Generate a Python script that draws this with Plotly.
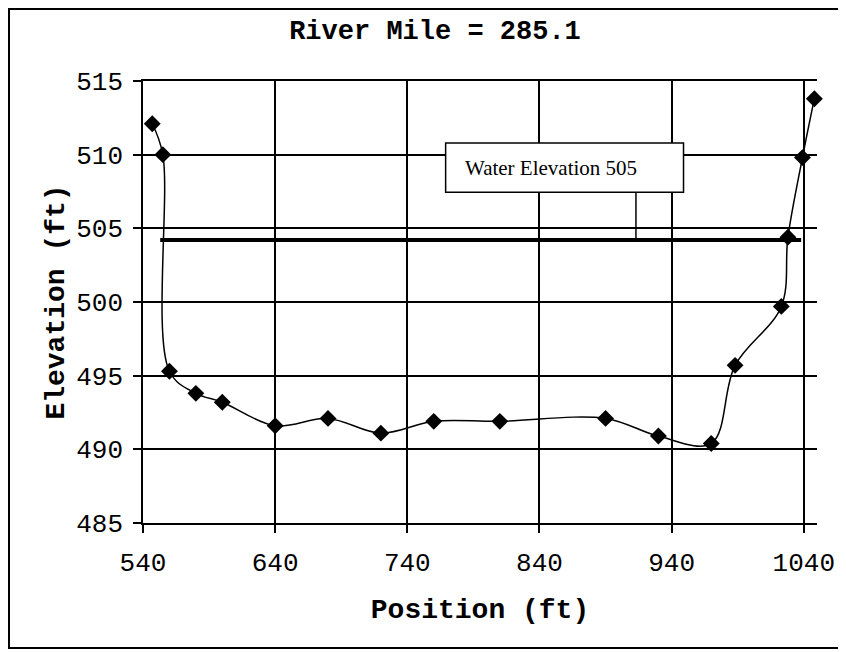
import plotly.graph_objects as go

# Cross-section survey points
position = [547, 555, 560, 580, 600, 640, 680, 720, 760, 810, 890, 930, 970, 988, 1023, 1028, 1039, 1048]
elevation = [512.1, 510.0, 495.3, 493.8, 493.2, 491.6, 492.1, 491.1, 491.9, 491.9, 492.1, 490.9, 490.4, 495.7, 499.7, 504.4, 509.8, 513.8]

# Water surface line
water_x = [553, 1038]
water_y = [504.2, 504.2]

x_ticks = [540, 640, 740, 840, 940, 1040]
y_ticks = [485, 490, 495, 500, 505, 510, 515]

mono = "Courier New, Liberation Mono, monospace"

# the page body adds an 8px margin, so the figure is 8px smaller than the window
W, H = 838, 644

fig = go.Figure()

fig.add_trace(go.Scatter(
    x=water_x, y=water_y,
    mode="lines",
    line=dict(color="black", width=4),
    showlegend=False,
    hoverinfo="skip"
))

fig.add_trace(go.Scatter(
    x=position, y=elevation,
    mode="lines+markers",
    line=dict(color="black", width=1.5, shape="spline", smoothing=1),
    marker=dict(symbol="diamond", size=13, color="black"),
    cliponaxis=False,
    showlegend=False
))

# callout box with its pointer to the water line
fig.add_shape(type="line", x0=913, x1=913, y0=504.2, y1=507.45,
              line=dict(color="black", width=1.5), layer="above")
fig.add_shape(type="rect", x0=769, x1=949, y0=507.45, y1=510.8,
              line=dict(color="black", width=1.5), fillcolor="white", layer="above")
fig.add_annotation(
    x=782, y=509.1, xanchor="left", yanchor="middle",
    text="Water Elevation 505", showarrow=False,
    font=dict(family="Times New Roman, Liberation Serif, serif", size=21, color="black")
)

# outer frame round the whole chart
fig.add_shape(type="rect", xref="paper", yref="paper",
              x0=-0.1988, x1=1.037, y0=-0.2828, y1=1.163,
              line=dict(color="black", width=2))

fig.update_layout(
    width=W, height=H,
    margin=dict(l=135, r=29, t=73, b=129),
    paper_bgcolor="white", plot_bgcolor="white",
    title=dict(
        text="<b>River Mile = 285.1</b>",
        x=427 / W, xref="container", xanchor="center",
        y=1 - 22 / H, yref="container", yanchor="middle",
        font=dict(family=mono, size=27, color="black")
    ),
    xaxis=dict(
        range=[540, 1050],
        tickvals=x_ticks,
        showgrid=True, gridcolor="black", gridwidth=1.5,
        showline=True, linecolor="black", linewidth=1.5, mirror=True,
        ticks="outside", ticklen=8, tickcolor="black", tickwidth=1.5,
        ticklabelstandoff=7,
        zeroline=False,
        tickfont=dict(family=mono, size=26, color="black"),
        title=dict(text="<b>Position (ft)</b>", standoff=20,
                   font=dict(family=mono, size=28, color="black"))
    ),
    yaxis=dict(
        range=[485, 515],
        tickvals=y_ticks,
        showgrid=True, gridcolor="black", gridwidth=1.5,
        showline=True, linecolor="black", linewidth=1.5,
        ticks="outside", ticklen=8, tickcolor="black", tickwidth=1.5,
        ticklabelstandoff=5,
        zeroline=False,
        tickfont=dict(family=mono, size=26, color="black"),
        title=dict(text="<b>Elevation (ft)</b>", standoff=3,
                   font=dict(family=mono, size=28, color="black"))
    )
)

fig.write_html("out.html")
